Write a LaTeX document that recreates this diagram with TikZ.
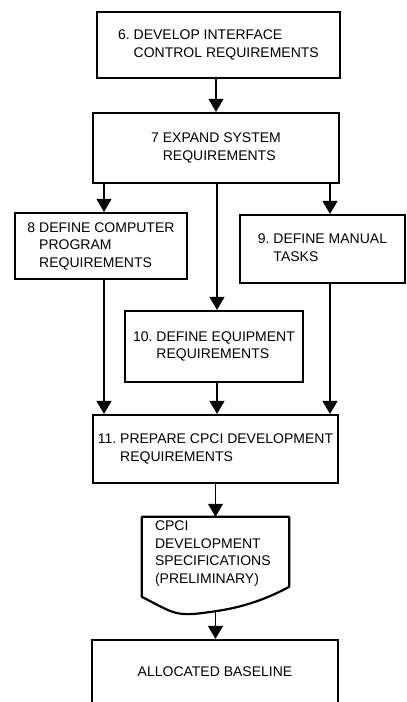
\documentclass[tikz,border=0pt]{standalone}
\usepackage{fontspec}
\setmainfont{Liberation Sans}
\usetikzlibrary{positioning,arrows.meta,calc}
\newcommand{\numlbl}[2]{#1~\begin{tabular}[t]{@{}l@{}}#2\end{tabular}}
\tikzset{
  taskbox/.style={draw, line width=2.2pt, font=\fontsize{14}{17.5}\selectfont,
                  inner sep=2pt},
  docbox/.style={inner sep=0pt, align=left, font=\fontsize{14}{17.5}\selectfont},
  flowarrow/.style={-{Triangle[length=13pt,width=15pt]}, line width=1.1pt},
  docline/.style={line width=2.2pt, line join=round},
}

\begin{document}
\begin{tikzpicture}[x=1pt, y=-1pt]
\useasboundingbox (0,0) rectangle (407,702);
%% column lines
\coordinate (colL) at (104,0);
\coordinate (colM) at (217,0);
\coordinate (colR) at (330,0);

%% Steps
\node[taskbox, minimum width=243pt, minimum height=66pt] (ifc) at (218.5,45)
  {\numlbl{6.}{DEVELOP INTERFACE\\CONTROL REQUIREMENTS}};
\node[taskbox, minimum width=246pt, minimum height=70pt] (sys) at (216,148)
  {\numlbl{7}{EXPAND SYSTEM\\REQUIREMENTS}};
\node[taskbox, minimum width=172pt, minimum height=66pt] (cpr) at (101,246)
  {\numlbl{8}{DEFINE COMPUTER\\PROGRAM\\REQUIREMENTS}};
\node[taskbox, minimum width=165pt, minimum height=68pt] (man) at (322.5,249)
  {\numlbl{9.}{DEFINE MANUAL\\TASKS}};
\node[taskbox, minimum width=178pt, minimum height=71pt] (eqp) at (214,346.5)
  {\numlbl{10.}{DEFINE EQUIPMENT\\REQUIREMENTS}};
\node[taskbox, minimum width=245pt, minimum height=68pt] (cpci) at (215.5,449)
  {\numlbl{11.}{PREPARE CPCI DEVELOPMENT\\REQUIREMENTS}};

%% Document
\node[docbox, minimum width=147pt, minimum height=73pt, text width=121pt] (spec) at (215.5,553.5)
  {CPCI\\DEVELOPMENT\\SPECIFICATIONS\\(PRELIMINARY)};
\coordinate (specb) at ($(spec.south)+(0,21)$);
\draw[docline] (spec.north west) -- ++(0,80)
  .. controls +(35,18) and +(-40,6) .. (specb)
  .. controls +(35,-5) and +(-15,8) .. ($(spec.north east)+(0,70)$)
  -- (spec.north east) -- cycle;

%% Baseline
\node[taskbox, minimum width=246pt, minimum height=64pt] (base) at (215,672)
  {ALLOCATED BASELINE};

%% Connectors
\draw[flowarrow] (ifc.south -| sys.north) -- (sys.north);
\draw[flowarrow] (sys.south -| colL) -- (cpr.north -| colL);
\draw[flowarrow] (sys.south -| colM) -- (eqp.north -| colM);
\draw[flowarrow] (sys.south -| colR) -- (man.north -| colR);
\draw[flowarrow] (cpr.south -| colL) -- (cpci.north -| colL);
\draw[flowarrow] (eqp.south -| colM) -- (cpci.north -| colM);
\draw[flowarrow] (man.south -| colR) -- (cpci.north -| colR);
\draw[flowarrow] (cpci.south -| spec.north) -- (spec.north);
\draw[flowarrow] (specb) -- (base.north -| specb);
\end{tikzpicture}
\end{document}
